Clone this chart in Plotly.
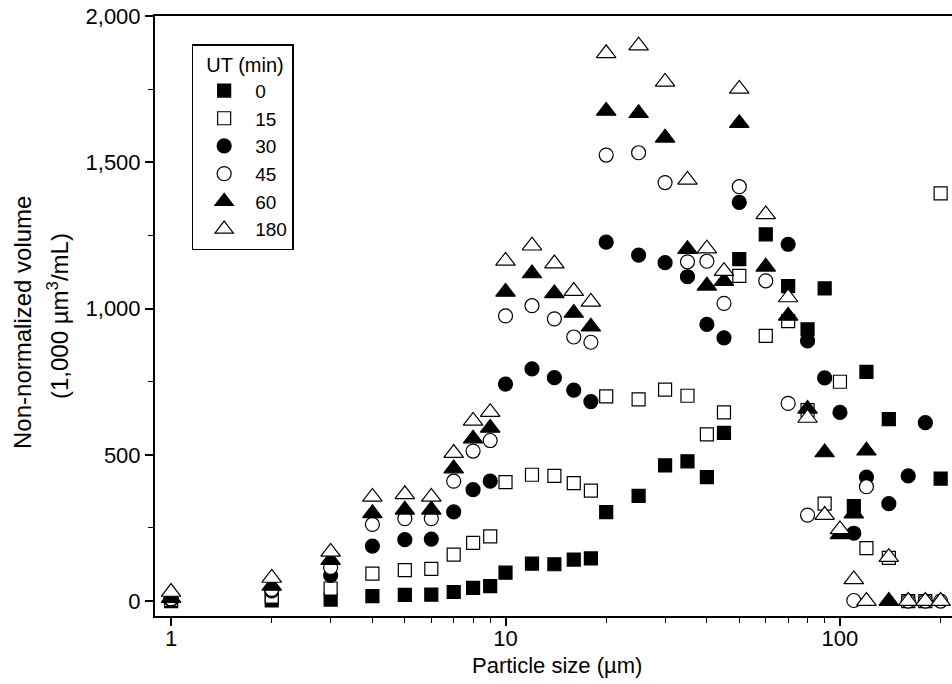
import plotly.graph_objects as go

# Particle size bins (µm)
sizes = [1, 2, 3, 4, 5, 6, 7, 8, 9, 10, 12, 14, 16, 18, 20, 25, 30, 35, 40, 45, 50,
         60, 70, 80, 90, 100, 110, 120, 140, 160, 180, 200]

# Non-normalized volume (1,000 µm^3/mL) per ultrasonication time
ut0 = [0, 2, 5, 17, 21, 22, 31, 45, 51, 97, 128, 126, 142, 146, 304, 360, 464, 478, 424, 575, 1169,
       1254, 1077, 929, 1069, None, 325, 784, 622, None, None, 419]
ut15 = [3, 15, 43, 94, 106, 110, 159, 199, 221, 407, 432, 428, 403, 378, 700, 690, 723, 702, 570, 645, 1112,
        907, 957, 653, 333, 750, None, 181, 148, 0, 0, 1394]
ut30 = [5, 35, 88, 188, 210, 212, 305, 381, 410, 742, 794, 764, 721, 682, 1227, 1183, 1157, 1109, 946, 900, 1363,
        None, 1220, 890, 763, 645, 232, 424, 333, 428, 610, None]
ut45 = [8, 40, 115, 262, 282, 282, 410, 513, 549, 975, 1010, 965, 903, 885, 1525, 1533, 1431, 1160, 1162, 1018, 1417,
        1095, 676, 294, None, None, 2, 391, None, 0, 0, 0]
ut60 = [10, 52, 140, 300, 312, 312, 453, 555, 592, 1057, 1120, 1052, 985, 938, 1676, 1668, 1584, 1203, 1078, 1094, 1634,
        1143, 975, 657, 508, 228, 299, 514, 0, None, None, None]
ut180 = [31, 79, 168, 356, 365, 356, 506, 616, 646, 1163, 1215, 1154, 1060, 1023, 1873, 1899, 1775, 1440, 1205, 1128, 1751,
         1322, 1038, 626, 294, 245, 74, 0, 150, 0, 0, 0]

series_names = ["0", "15", "30", "45", "60", "180"]
series_values = [ut0, ut15, ut30, ut45, ut60, ut180]
symbols = ["square", "square-open", "circle", "circle-open", "triangle-up", "triangle-up-open"]
msizes = [13, 13, 14, 14, 17, 17]

x_major = [1, 10, 100]
x_major_text = ["1", "10", "100"]
x_minor = [2, 3, 4, 5, 6, 7, 8, 9, 20, 30, 40, 50, 60, 70, 80, 90, 200, 300]
y_major = [0, 500, 1000, 1500, 2000]
y_minor = [250, 750, 1250, 1750]

FONT = "Liberation Sans, Arial, sans-serif"

fig = go.Figure()
for name, vals, sym, ms in zip(series_names, series_values, symbols, msizes):
    is_open = sym.endswith("-open")
    fig.add_trace(go.Scatter(
        x=sizes, y=vals, mode="markers", name=name,
        marker=dict(symbol=sym.replace("-open", ""), size=ms,
                    color="white" if is_open else "black",
                    line=dict(color="black", width=1.2)),
    ))

fig.update_layout(
    width=952, height=684,
    margin=dict(l=155, r=0, t=16, b=68, autoexpand=False),
    paper_bgcolor="white", plot_bgcolor="white",
    font=dict(family=FONT, size=22, color="black"),
    showlegend=True,
    legend=dict(
        x=0.046, y=0.953, xanchor="left", yanchor="top",
        bordercolor="black", borderwidth=1.5, bgcolor="white",
        font=dict(family=FONT, size=19, color="black"),
        title=dict(text="\u00a0\u00a0UT (min)", font=dict(family=FONT, size=20)),
        itemwidth=52,
    ),
    xaxis=dict(
        type="log", range=[-0.048, 2.335],
        showgrid=False, zeroline=False, automargin=False,
        showline=True, linecolor="black", linewidth=2, mirror=True,
        ticks="outside", ticklen=8, tickwidth=1.5, tickcolor="black",
        tickvals=x_major, ticktext=x_major_text,
        tickfont=dict(family=FONT, size=22),
        ticklabelstandoff=-6,
        minor=dict(tickvals=x_minor, ticks="outside", ticklen=5, tickwidth=1.2, tickcolor="black", showgrid=False),
    ),
    yaxis=dict(
        range=[-51, 2000.5],
        showgrid=False, zeroline=False, automargin=False,
        showline=True, linecolor="black", linewidth=2, mirror=False,
        ticks="outside", ticklen=8, tickwidth=1.5, tickcolor="black",
        tickvals=y_major, tickformat=",d",
        tickfont=dict(family=FONT, size=22),
        ticklabeloverflow="allow",
        minor=dict(tickvals=y_minor, ticks="outside", ticklen=5, tickwidth=1.2, tickcolor="black", showgrid=False),
    ),
    annotations=[
        dict(text="Particle size (µm)", xref="paper", yref="paper", x=0.504, y=-0.0817,
             xanchor="center", yanchor="middle", showarrow=False, font=dict(family=FONT, size=22)),
        dict(text="Non-normalized volume", xref="paper", yref="paper", x=-0.1669, y=0.49,
             xanchor="center", yanchor="middle", textangle=-90, showarrow=False, font=dict(family=FONT, size=24)),
        dict(text="(1,000 µm<sup>3</sup>/mL)", xref="paper", yref="paper", x=-0.1217, y=0.50,
             xanchor="center", yanchor="middle", textangle=-90, showarrow=False, font=dict(family=FONT, size=24)),
    ],
)

fig.write_html("out.html", config={"displayModeBar": False},
               post_script="document.body.style.margin='0px';")
